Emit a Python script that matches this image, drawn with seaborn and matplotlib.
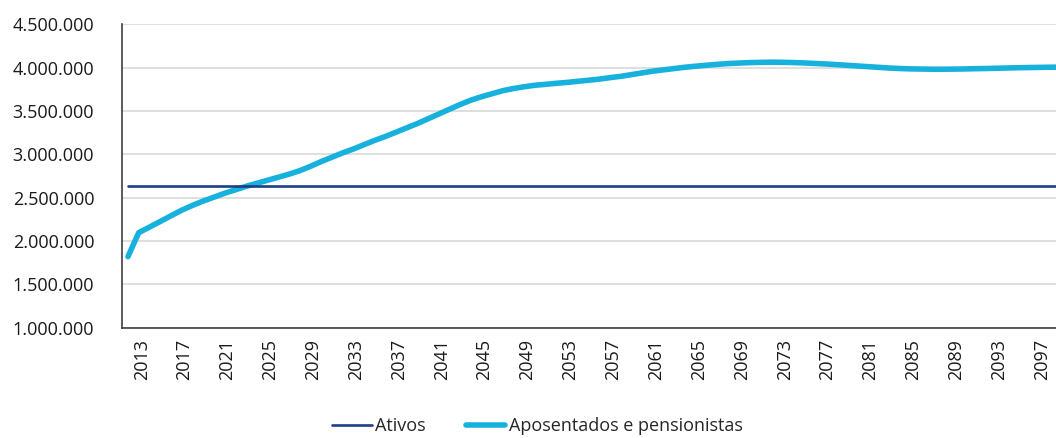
import numpy as np
import pandas as pd
import matplotlib
matplotlib.use("Agg")
import matplotlib.pyplot as plt
import matplotlib.transforms as mtransforms
import seaborn as sns
from matplotlib.ticker import FuncFormatter, FixedLocator

# data (values in persons)
years = list(range(2012, 2100))

ativos = [2640000] * len(years)

aposentados = [
    1820000, 2096000, 2160000, 2225000, 2290000, 2355000, 2410000, 2460000,  # 2012-2019
    2505000, 2550000, 2590000, 2630000, 2665000, 2700000, 2735000, 2770000,  # 2020-2027
    2810000, 2860000, 2915000, 2965000, 3015000, 3060000, 3110000, 3160000,  # 2028-2035
    3205000, 3255000, 3305000, 3355000, 3410000, 3465000, 3520000, 3575000,  # 2036-2043
    3625000, 3665000, 3700000, 3735000, 3760000, 3780000, 3797000, 3808000,  # 2044-2051
    3820000, 3830000, 3843000, 3855000, 3868000, 3885000, 3900000, 3920000,  # 2052-2059
    3940000, 3960000, 3975000, 3990000, 4005000, 4017000, 4028000, 4038000,  # 2060-2067
    4047000, 4053000, 4058000, 4061000, 4063000, 4062000, 4059000, 4055000,  # 2068-2075
    4049000, 4043000, 4036000, 4028000, 4020000, 4012000, 4004000, 3996000,  # 2076-2083
    3990000, 3986000, 3984000, 3982000, 3982000, 3983000, 3985000, 3988000,  # 2084-2091
    3990000, 3993000, 3996000, 3999000, 4001000, 4003000, 4005000, 4006000,  # 2092-2099
]

tick_years = list(range(2013, 2098, 4))
y_ticks = [1000000, 1500000, 2000000, 2500000, 3000000, 3500000, 4000000, 4500000]

navy = "#1b3f87"
cyan = "#17b1de"

df = pd.DataFrame({"ano": years, "Ativos": ativos, "Aposentados e pensionistas": aposentados})

sns.set_theme(style="white")
plt.rcParams["font.family"] = ["Open Sans", "DejaVu Sans"]
plt.rcParams["font.size"] = 13

fig = plt.figure(figsize=(10.56, 4.38), dpi=100)
ax = fig.add_axes([0.1155, 0.2518, 0.8845, 0.6927])

sns.lineplot(data=df, x="ano", y="Aposentados e pensionistas", color=cyan, linewidth=4.0,
             label="Aposentados e pensionistas", ax=ax, zorder=3, solid_capstyle="round")
sns.lineplot(data=df, x="ano", y="Ativos", color=navy, linewidth=1.9,
             label="Ativos", ax=ax, zorder=4)

ax.set_xlim(2011.44, 2098.6)
ax.set_ylim(1000000, 4500000)
ax.set_yticks(y_ticks)
ax.yaxis.set_major_formatter(FuncFormatter(lambda v, p: f"{v:,.0f}".replace(",", ".")))
ax.grid(axis="y", color="#d9d9d9", linewidth=1.2)
ax.set_axisbelow(True)

ax.set_xticks(tick_years)
ax.set_xticklabels([str(y) for y in tick_years], rotation=90)
ax.xaxis.set_minor_locator(FixedLocator(np.arange(2011.44, 2100, 4)))
ax.tick_params(axis="x", which="major", length=0, pad=8, labelsize=13, colors="#1a1a1a")
ax.tick_params(axis="x", which="minor", length=11, width=1.2, color="#404040", direction="out")
ax.tick_params(axis="y", which="major", length=10, width=1.2, color="#404040", direction="out",
               pad=10, labelsize=13, labelcolor="#1a1a1a")
ax.set_xlabel("")
ax.set_ylabel("")

# nudge the rotated year labels a little to the right, as in the original
shift = mtransforms.ScaledTranslation(3 / 100, 0, fig.dpi_scale_trans)
for lbl in ax.get_xticklabels():
    lbl.set_transform(lbl.get_transform() + shift)

sns.despine(ax=ax, top=True, right=True)
for side in ["left", "bottom"]:
    ax.spines[side].set_color("#404040")
    ax.spines[side].set_linewidth(1.2)

ax.get_legend().remove()
handles, labels = ax.get_legend_handles_labels()
order = [labels.index("Ativos"), labels.index("Aposentados e pensionistas")]
fig.legend([handles[i] for i in order], [labels[i] for i in order], loc="center",
           bbox_to_anchor=(0.509, 0.027), ncol=2, frameon=False, fontsize=13,
           handlelength=2.2, handletextpad=0.2, columnspacing=2.2)

fig.savefig("out.png", dpi=100)
